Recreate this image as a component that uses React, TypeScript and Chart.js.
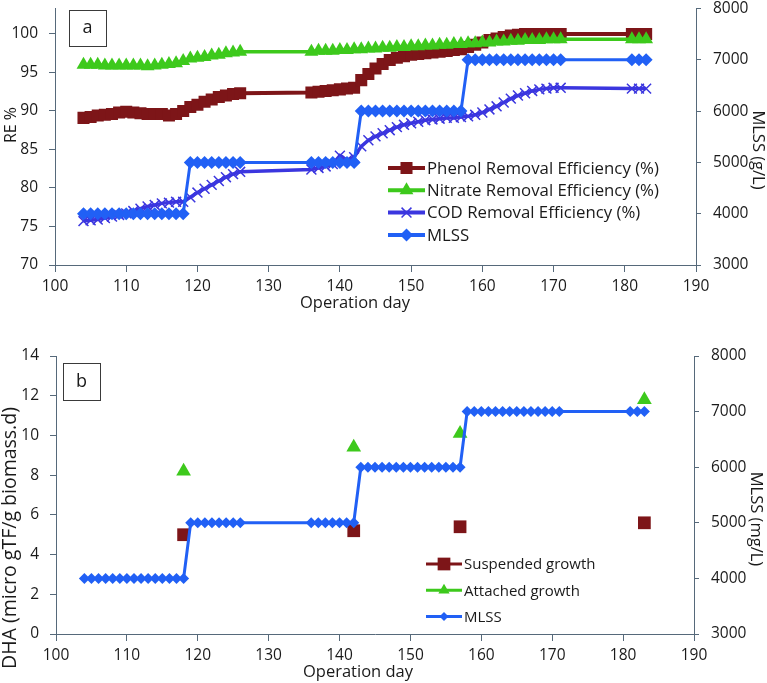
import React, { useEffect, useRef } from 'react';
import { Chart, registerables } from 'chart.js';
Chart.register(...registerables);

const FONT = "'Open Sans', 'Noto Sans', sans-serif";
const axisColor = '#56697a';
const textColor = '#1a1a1a';
const phenolColor = '#7d1518';
const nitrateColor = '#3dc91c';
const codColor = '#3b36df';
const mlssColor = '#2160f5';

// ---------- Panel a ----------
const days = [
  104, 105, 106, 107, 108, 109, 110, 111, 112, 113, 114, 115, 116, 117, 118,
  119, 120, 121, 122, 123, 124, 125, 126,
  136, 137, 138, 139, 140, 141, 142,
  143, 144, 145, 146, 147, 148, 149, 150, 151, 152, 153, 154, 155, 156, 157,
  158, 159, 160, 161, 162, 163, 164, 165, 166, 167, 168, 169, 170, 171,
  181, 182, 183,
];
const phenolRE = [
  89.1, 89.2, 89.4, 89.5, 89.6, 89.8, 89.9, 89.8, 89.7, 89.6, 89.6, 89.6, 89.4, 89.6, 90.0,
  90.5, 90.8, 91.2, 91.5, 91.8, 92.0, 92.2, 92.3,
  92.4, 92.5, 92.6, 92.7, 92.8, 92.9, 93.0,
  94.0, 94.8, 95.5, 96.1, 96.6, 96.9, 97.1, 97.3, 97.4, 97.5, 97.6, 97.7, 97.8, 97.9, 98.0,
  98.3, 98.6, 98.9, 99.2, 99.4, 99.6, 99.8, 99.9, 100, 100, 100, 100, 100, 100,
  100, 100, 100,
];
const nitrateRE = [
  96.0, 96.0, 96.0, 95.9, 95.9, 95.9, 95.9, 95.9, 95.9, 95.8, 95.9, 96.0, 96.1, 96.2, 96.5,
  96.8, 96.9, 97.0, 97.2, 97.3, 97.5, 97.6, 97.7,
  97.7, 97.8, 97.8, 97.8, 97.9, 97.9, 98.0,
  98.0, 98.1, 98.1, 98.2, 98.2, 98.3, 98.3, 98.4, 98.4, 98.5, 98.5, 98.6, 98.6, 98.7, 98.7,
  98.8, 98.8, 98.9, 98.9, 99.0, 99.0, 99.1, 99.1, 99.2, 99.2, 99.2, 99.3, 99.3, 99.3,
  99.3, 99.3, 99.3,
];
const codRE = [
  75.7, 75.8, 75.9, 76.1, 76.3, 76.5, 76.7, 77.0, 77.3, 77.6, 77.8, 78.0, 78.1, 78.2, 78.2,
  78.8, 79.4, 79.9, 80.4, 80.9, 81.4, 81.8, 82.1,
  82.4, 82.6, 82.8, 83.1, 84.2, 83.6, 84.0,
  85.4, 86.2, 86.7, 87.1, 87.5, 87.9, 88.2, 88.4, 88.6, 88.8, 88.9, 89.0, 89.1, 89.1, 89.2,
  89.3, 89.5, 89.8, 90.2, 90.6, 91.1, 91.6, 92.0, 92.3, 92.6, 92.8, 92.9, 93.0, 93.0,
  92.9, 92.9, 92.9,
];
const mlssA = [
  4000, 4000, 4000, 4000, 4000, 4000, 4000, 4000, 4000, 4000, 4000, 4000, 4000, 4000, 4000,
  5000, 5000, 5000, 5000, 5000, 5000, 5000, 5000,
  5000, 5000, 5000, 5000, 5000, 5000, 5000,
  6000, 6000, 6000, 6000, 6000, 6000, 6000, 6000, 6000, 6000, 6000, 6000, 6000, 6000, 6000,
  7000, 7000, 7000, 7000, 7000, 7000, 7000, 7000, 7000, 7000, 7000, 7000, 7000, 7000,
  7000, 7000, 7000,
];
const reTicks = [70, 75, 80, 85, 90, 95, 100];
const mlssTicks = [3000, 4000, 5000, 6000, 7000, 8000];
const dayTicks = [100, 110, 120, 130, 140, 150, 160, 170, 180, 190];

// ---------- Panel b ----------
const dhaDays = [118, 142, 157, 183];
const suspendedDHA = [5.0, 5.2, 5.4, 5.6];
const attachedDHA = [8.2, 9.4, 10.1, 11.8];
const mlssB = [
  4000, 4000, 4000, 4000, 4000, 4000, 4000, 4000, 4000, 4000, 4000, 4000, 4000, 4000, 4000,
  5000, 5000, 5000, 5000, 5000, 5000, 5000, 5000,
  5000, 5000, 5000, 5000, 5000, 5000, 5000,
  6000, 6000, 6000, 6000, 6000, 6000, 6000, 6000, 6000, 6000, 6000, 6000, 6000, 6000, 6000,
  7000, 7000, 7000, 7000, 7000, 7000, 7000, 7000, 7000, 7000, 7000, 7000, 7000, 7000,
  7000, 7000, 7000,
];
const dhaTicks = [0, 2, 4, 6, 8, 10, 12, 14];

function pts(xs: number[], ys: number[]) {
  return xs.map((x, i) => ({ x, y: ys[i] }));
}

function drawMarker(ctx: CanvasRenderingContext2D, style: string, x: number, y: number, r: number, color: string) {
  ctx.save();
  ctx.fillStyle = color;
  ctx.strokeStyle = color;
  ctx.beginPath();
  if (style === 'rect') {
    const s = r * Math.SQRT1_2;
    ctx.rect(x - s, y - s, 2 * s, 2 * s);
    ctx.fill();
  } else if (style === 'triangle') {
    ctx.moveTo(x, y - r);
    ctx.lineTo(x + 0.866 * r, y + 0.5 * r);
    ctx.lineTo(x - 0.866 * r, y + 0.5 * r);
    ctx.closePath();
    ctx.fill();
  } else if (style === 'rectRot') {
    ctx.moveTo(x - r, y);
    ctx.lineTo(x, y - r);
    ctx.lineTo(x + r, y);
    ctx.lineTo(x, y + r);
    ctx.closePath();
    ctx.fill();
  } else if (style === 'crossRot') {
    const o = r * Math.SQRT1_2;
    ctx.lineWidth = 1.5;
    ctx.moveTo(x - o, y - o);
    ctx.lineTo(x + o, y + o);
    ctx.moveTo(x - o, y + o);
    ctx.lineTo(x + o, y - o);
    ctx.stroke();
  }
  ctx.restore();
}

const overlayPlugin = {
  id: 'overlay',
  afterDraw(chart: any, _args: any, opts: any) {
    const ctx: CanvasRenderingContext2D = chart.ctx;
    ctx.save();
    const b = opts.box;
    ctx.strokeStyle = '#3a3a3a';
    ctx.lineWidth = 1;
    ctx.strokeRect(b.x + 0.5, b.y + 0.5, b.w, b.h);
    ctx.fillStyle = textColor;
    ctx.font = `${b.size}px ${FONT}`;
    ctx.textAlign = 'center';
    ctx.textBaseline = 'middle';
    ctx.fillText(b.text, b.x + b.w / 2, b.y + b.h / 2);

    for (const t of opts.titles) {
      ctx.save();
      ctx.translate(t.x, t.y);
      ctx.rotate(t.rot);
      ctx.font = `${t.size}px ${FONT}`;
      ctx.fillStyle = textColor;
      ctx.textAlign = 'center';
      ctx.textBaseline = 'middle';
      ctx.fillText(t.text, 0, 0);
      ctx.restore();
    }

    const L = opts.legend;
    L.items.forEach((idx: number, k: number) => {
      const ds = chart.data.datasets[idx];
      const y = L.y0 + k * L.dy;
      ctx.strokeStyle = ds.borderColor;
      ctx.lineWidth = L.lineWidth;
      ctx.beginPath();
      ctx.moveTo(L.x0, y);
      ctx.lineTo(L.x1, y);
      ctx.stroke();
      drawMarker(ctx, ds.pointStyle, (L.x0 + L.x1) / 2, y, L.radii[k], ds.borderColor);
      ctx.fillStyle = textColor;
      ctx.font = `${L.size}px ${FONT}`;
      ctx.textAlign = 'left';
      ctx.textBaseline = 'middle';
      ctx.fillText(ds.label, L.tx, y + 1);
    });
    ctx.restore();
  },
};

const plainLabel = (v: any) => String(v);

function xScale(height: number) {
  return {
    type: 'linear',
    min: 100,
    max: 190,
    afterBuildTicks: (s: any) => { s.ticks = dayTicks.map((v) => ({ value: v })); },
    ticks: { font: { family: FONT, size: 15.5 }, color: textColor, padding: 5, maxRotation: 0, autoSkip: false, callback: plainLabel },
    grid: { drawOnChartArea: false, drawTicks: true, tickLength: 7, color: axisColor, lineWidth: 1 },
    border: { display: true, color: axisColor, width: 1 },
    afterFit: (s: any) => { s.height = height; s.paddingLeft = 0; s.paddingRight = 0; },
  };
}

function yScale(position: string, min: number, max: number, tickVals: number[], width: number, tickLen: number, pad: number) {
  return {
    type: 'linear',
    position,
    min,
    max,
    afterBuildTicks: (s: any) => { s.ticks = tickVals.map((v) => ({ value: v })); },
    ticks: { font: { family: FONT, size: 15.5 }, color: textColor, padding: pad, autoSkip: false, callback: plainLabel },
    grid: { drawOnChartArea: false, drawTicks: true, tickLength: tickLen, color: axisColor, lineWidth: 1 },
    border: { display: true, color: axisColor, width: 1 },
    afterFit: (s: any) => { s.width = width; s.paddingTop = 0; s.paddingBottom = 0; },
  };
}

function configA(): any {
  return {
    type: 'line',
    data: {
      datasets: [
        {
          label: 'Phenol Removal Efficiency (%)', yAxisID: 'y', order: 3,
          data: pts(days, phenolRE), borderColor: phenolColor, backgroundColor: phenolColor,
          borderWidth: 4, pointStyle: 'rect', pointRadius: 8.5, pointBorderWidth: 0,
        },
        {
          label: 'Nitrate Removal Efficiency (%)', yAxisID: 'y', order: 2,
          data: pts(days, nitrateRE), borderColor: nitrateColor, backgroundColor: nitrateColor,
          borderWidth: 3.5, pointStyle: 'triangle', pointRadius: 8, pointBorderWidth: 0,
        },
        {
          label: 'COD Removal Efficiency (%)', yAxisID: 'y', order: 1,
          data: pts(days, codRE), borderColor: codColor, backgroundColor: codColor,
          borderWidth: 3.5, pointStyle: 'crossRot', pointRadius: 7, pointBorderWidth: 1.5,
        },
        {
          label: 'MLSS', yAxisID: 'y2', order: 0,
          data: pts(days, mlssA), borderColor: mlssColor, backgroundColor: mlssColor,
          borderWidth: 3, pointStyle: 'rectRot', pointRadius: 6.5, pointBorderWidth: 0,
        },
      ],
    },
    options: {
      responsive: false,
      animation: false,
      events: [],
      layout: { padding: { top: 5, left: 0, right: 0, bottom: 0 } },
      elements: { line: { tension: 0 } },
      plugins: {
        legend: { display: false },
        tooltip: { enabled: false },
        overlay: {
          box: { x: 69, y: 10, w: 37, h: 36, text: 'a', size: 18 },
          titles: [
            { text: 'RE %', x: 11, y: 125, rot: -Math.PI / 2, size: 16 },
            { text: 'MLSS (g/L)', x: 758, y: 150, rot: Math.PI / 2, size: 16.5 },
            { text: 'Operation day', x: 355, y: 303, rot: 0, size: 16.5 },
          ],
          legend: { items: [0, 1, 2, 3], x0: 388, x1: 425, tx: 427, y0: 168, dy: 22.3, lineWidth: 4, size: 16.8, radii: [8.5, 8, 7, 6.5] },
        },
      },
      scales: {
        x: xScale(55),
        y: yScale('left', 70, 103.3, reTicks, 55, 6, 11),
        y2: yScale('right', 3000, 8000, mlssTicks, 71, 5, 12),
      },
    },
    plugins: [overlayPlugin],
  };
}

function configB(): any {
  return {
    type: 'line',
    data: {
      datasets: [
        {
          label: 'Suspended growth', yAxisID: 'y', order: 2, showLine: false,
          data: pts(dhaDays, suspendedDHA), borderColor: phenolColor, backgroundColor: phenolColor,
          borderWidth: 3, pointStyle: 'rect', pointRadius: 9, pointBorderWidth: 0,
        },
        {
          label: 'Attached growth', yAxisID: 'y', order: 1, showLine: false,
          data: pts(dhaDays, attachedDHA), borderColor: nitrateColor, backgroundColor: nitrateColor,
          borderWidth: 3, pointStyle: 'triangle', pointRadius: 8.5, pointBorderWidth: 0,
        },
        {
          label: 'MLSS', yAxisID: 'y2', order: 0,
          data: pts(days, mlssB), borderColor: mlssColor, backgroundColor: mlssColor,
          borderWidth: 3, pointStyle: 'rectRot', pointRadius: 5.5, pointBorderWidth: 0,
        },
      ],
    },
    options: {
      responsive: false,
      animation: false,
      events: [],
      layout: { padding: { top: 36, left: 0, right: 0, bottom: 0 } },
      elements: { line: { tension: 0 } },
      plugins: {
        legend: { display: false },
        tooltip: { enabled: false },
        overlay: {
          box: { x: 63, y: 43, w: 37, h: 37, text: 'b', size: 18 },
          titles: [
            { text: 'DHA (micro gTF/g biomass.d)', x: 10, y: 218, rot: -Math.PI / 2, size: 19.5 },
            { text: 'MLSS (mg/L)', x: 756, y: 199, rot: Math.PI / 2, size: 16.5 },
            { text: 'Operation day', x: 358, y: 352, rot: 0, size: 16.5 },
          ],
          legend: { items: [0, 1, 2], x0: 426, x1: 462, tx: 464, y0: 244, dy: 26.3, lineWidth: 3, size: 15, radii: [9, 6.5, 4.5] },
        },
      },
      scales: {
        x: xScale(49),
        y: yScale('left', 0, 14, dhaTicks, 56, 6, 11),
        y2: yScale('right', 3000, 8000, mlssTicks, 73, 5, 12),
      },
    },
    plugins: [overlayPlugin],
  };
}

export default function App() {
  const refA = useRef<HTMLCanvasElement>(null);
  const refB = useRef<HTMLCanvasElement>(null);
  useEffect(() => {
    const a = new Chart(refA.current as HTMLCanvasElement, configA());
    const b = new Chart(refB.current as HTMLCanvasElement, configB());
    return () => {
      a.destroy();
      b.destroy();
    };
  }, []);
  return (
    <div style={{ position: 'absolute', left: 0, top: 0, width: 767, height: 683, background: '#ffffff', overflow: 'hidden' }}>
      <canvas ref={refA} width={767} height={320} style={{ position: 'absolute', left: 0, top: 0, width: 767, height: 320 }} />
      <canvas ref={refB} width={767} height={363} style={{ position: 'absolute', left: 0, top: 320, width: 767, height: 363 }} />
    </div>
  );
}
